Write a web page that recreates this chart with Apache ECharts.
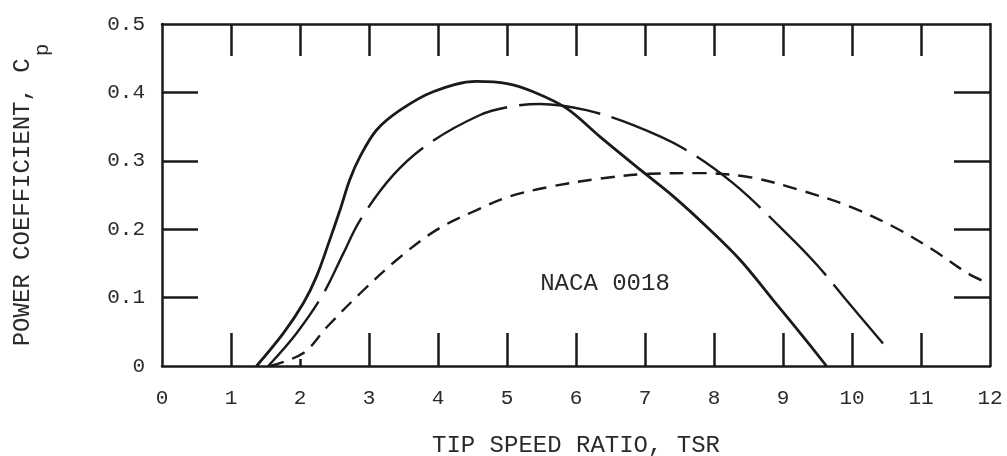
<!DOCTYPE html>
<html>
<head>
<meta charset="utf-8">
<script src="https://cdn.jsdelivr.net/npm/echarts@6/dist/echarts.min.js"></script>
<style>
  html, body { margin: 0; padding: 0; background: #fff; }
  #chart { width: 1007px; height: 456px; }
</style>
</head>
<body>
<div id="chart"></div>
<script>
// tip speed ratio / power coefficient
const solidTsr = [1.37, 1.76, 2.05, 2.24, 2.43, 2.58, 2.72, 2.87, 3.11, 3.45, 3.93, 4.56, 5.0, 5.38, 5.86, 6.35, 6.93, 7.41, 7.89, 8.38, 8.86, 9.25, 9.63]
const solidCp = [0, 0.048, 0.092, 0.131, 0.184, 0.228, 0.272, 0.306, 0.345, 0.374, 0.401, 0.416, 0.413, 0.401, 0.377, 0.335, 0.287, 0.248, 0.204, 0.155, 0.096, 0.048, 0]

const longDashTsr = [1.54, 1.95, 2.34, 2.63, 2.87, 3.35, 3.88, 4.61, 5.04, 5.48, 6.15, 6.83, 7.56, 8.28, 9.05, 9.5, 9.92, 10.45]
const longDashCp = [0, 0.048, 0.106, 0.165, 0.213, 0.279, 0.326, 0.367, 0.379, 0.383, 0.374, 0.352, 0.318, 0.267, 0.194, 0.147, 0.096, 0.033]

const shortDashTsr = [1.57, 2.05, 2.39, 2.87, 3.4, 3.98, 4.56, 5.04, 5.62, 6.35, 7.07, 7.8, 8.52, 9.25, 9.97, 10.65, 11.2, 11.67, 11.97]
const shortDashCp = [0, 0.019, 0.057, 0.106, 0.155, 0.199, 0.228, 0.248, 0.262, 0.274, 0.281, 0.282, 0.276, 0.257, 0.233, 0.201, 0.168, 0.136, 0.121]

const xTicks = [1, 3, 4, 5, 6, 7, 8, 9, 10, 11]
const xShortTicks = [2]
const xTopTicks = [1, 2, 3, 4, 5, 6, 7, 8, 9, 10, 11]
const yTicks = [0.1, 0.2, 0.3, 0.4]

const ink = "#1a1a1a"
const textInk = "#2a2a2a"
const font = "Liberation Mono"

const zip = (xs, ys) => xs.map((x, i) => [x, ys[i]])

const chart = echarts.init(document.getElementById("chart"))

const frameLine = { show: true, onZero: false, lineStyle: { color: ink, width: 2.5 } }
const tickStyle = { color: ink, width: 2.5 }

chart.setOption({
  animation: false,
  backgroundColor: "#fff",
  textStyle: { fontFamily: font, color: textInk },
  grid: { left: 162, right: 17, top: 24, bottom: 90, containLabel: false, outerBoundsMode: "none" },
  xAxis: [
    {
      type: "value", position: "bottom", min: 0, max: 12, interval: 1,
      axisLine: frameLine,
      axisTick: { inside: true, length: 33, customValues: xTicks, lineStyle: tickStyle },
      axisLabel: { color: textInk, fontFamily: font, fontSize: 21, margin: 22 },
      splitLine: { show: false },
      name: "TIP SPEED RATIO, TSR", nameLocation: "middle", nameGap: 68,
      nameTextStyle: { color: textInk, fontFamily: font, fontSize: 24 },
    },
    {
      type: "value", position: "bottom", min: 0, max: 12, interval: 1,
      axisLine: { show: false, onZero: false },
      axisTick: { inside: true, length: 7, customValues: xShortTicks, lineStyle: tickStyle },
      axisLabel: { show: false },
      splitLine: { show: false },
    },
    {
      type: "value", position: "top", min: 0, max: 12, interval: 1,
      axisLine: frameLine,
      axisTick: { inside: true, length: 32, customValues: xTopTicks, lineStyle: tickStyle },
      axisLabel: { show: false },
      splitLine: { show: false },
    },
  ],
  yAxis: [
    {
      type: "value", position: "left", min: 0, max: 0.5, interval: 0.1,
      axisLine: frameLine,
      axisTick: { inside: true, length: 36, customValues: yTicks, lineStyle: tickStyle },
      axisLabel: { color: textInk, fontFamily: font, fontSize: 21, margin: 17 },
      splitLine: { show: false },
      name: "{t|POWER COEFFICIENT, C}{s|p}", nameLocation: "middle", nameGap: 127,
      nameTextStyle: {
        color: textInk, fontFamily: font, fontSize: 24,
        rich: {
          t: { fontFamily: font, fontSize: 24, color: textInk },
          s: { fontFamily: font, fontSize: 21, color: textInk, verticalAlign: "bottom", padding: [0, 0, -18, 2] },
        },
      },
    },
    {
      type: "value", position: "right", min: 0, max: 0.5, interval: 0.1,
      axisLine: frameLine,
      axisTick: { inside: true, length: 36, customValues: yTicks, lineStyle: tickStyle },
      axisLabel: { show: false },
      splitLine: { show: false },
    },
  ],
  series: [
    {
      type: "line", data: zip(solidTsr, solidCp), smooth: 0.35, showSymbol: false,
      lineStyle: { color: ink, width: 2.8 },
    },
    {
      type: "line", data: zip(longDashTsr, longDashCp), smooth: 0.35, showSymbol: false,
      lineStyle: { color: ink, width: 2.4, type: [82, 12] },
    },
    {
      type: "line", data: zip(shortDashTsr, shortDashCp), smooth: 0.35, showSymbol: false,
      lineStyle: { color: ink, width: 2.4, type: [14, 9] },
      markPoint: {
        symbol: "circle", symbolSize: 0,
        data: [{ coord: [6.42, 0.12], value: "NACA 0018" }],
        label: { show: true, formatter: "NACA 0018", color: textInk, fontFamily: font, fontSize: 24 },
      },
    },
  ],
})
</script>
</body>
</html>
